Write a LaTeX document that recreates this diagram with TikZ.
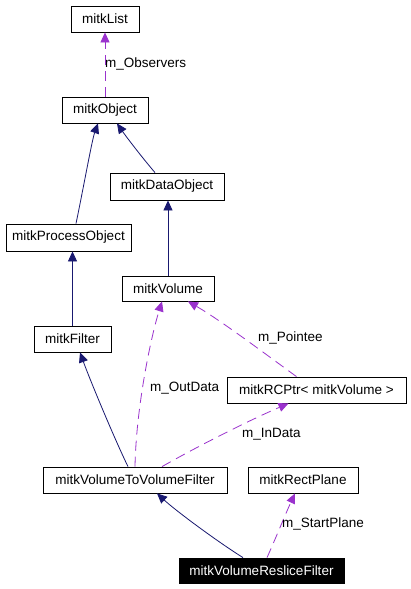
\documentclass[tikz,border=0pt]{standalone}
\usepackage{fontspec}
\setmainfont{Liberation Sans}
\usetikzlibrary{arrows.meta}
\definecolor{navy}{HTML}{191970}
\definecolor{orchid}{HTML}{9A32CD}
\begin{document}
\begin{tikzpicture}[x=1pt,y=-1pt,
  box/.style={draw=black,line width=0.8pt,fill=white,inner sep=0pt,minimum height=26pt,font=\fontsize{13.5pt}{15pt}\selectfont},
  inh/.style={draw=navy,line width=0.8pt,-{Triangle[length=10pt,width=9pt]}},
  use/.style={draw=orchid,line width=0.8pt,dash pattern=on 10pt off 6pt,-{Triangle[length=10pt,width=9pt]}},
  lbl/.style={anchor=west,inner sep=0pt,font=\fontsize{13.5pt}{15pt}\selectfont}]
\useasboundingbox (0,0) rectangle (411,589);
\fill[white] (0,0) rectangle (411,589);
\node[box,minimum width=68pt] (list) at (105,19) {mitkList};
\node[box,minimum width=86pt] (obj) at (105,110) {mitkObject};
\node[box,minimum width=114pt,minimum height=27pt] (dobj) at (167,186.5) {mitkDataObject};
\node[box,minimum width=125pt,minimum height=27pt] (pobj) at (68.5,237.5) {mitkProcessObject};
\node[box,minimum width=92pt,minimum height=25pt] (vol) at (168,288.5) {mitkVolume};
\node[box,minimum width=77pt] (filt) at (72.5,339) {mitkFilter};
\node[box,minimum width=179pt] (rcp) at (316.5,390) {mitkRCPtr< mitkVolume >};
\node[box,minimum width=184pt] (vtvf) at (135,480) {mitkVolumeToVolumeFilter};
\node[box,minimum width=110pt] (rect) at (303,480) {mitkRectPlane};
\node[box,minimum width=165pt,minimum height=25pt,fill=black,text=white] (vrf) at (261.5,570.5) {mitkVolumeResliceFilter};

% inheritance
\draw[inh] ([xshift=7.5pt]pobj.north) .. controls (84,185) and (92,140) .. ([xshift=-7pt]obj.south);
\draw[inh] ([xshift=-12pt]dobj.north) .. controls (140,155) and (125,135) .. ([xshift=12pt]obj.south);
\draw[inh] (vol.north) -- (vol.north |- dobj.south);
\draw[inh] (filt.north) -- (filt.north |- pobj.south);
\draw[inh] ([xshift=-7pt]vtvf.north) .. controls (115,440) and (90,380) .. ([xshift=7.5pt]filt.south);
\draw[inh] ([xshift=-18.5pt]vrf.north) .. controls (215,540) and (175,510) .. ([xshift=22pt]vtvf.south);

% usage
\draw[use] (obj.north) -- (list.south);
\node[lbl] (lobs) at (105,64) {m\_Observers};
\draw[use] (vtvf.north) .. controls (136,410) and (150,340) .. ([xshift=-6pt]vol.south);
\node[lbl] (lout) at (150,388) {m\_OutData};
\draw[use] ([xshift=27pt]vtvf.north) .. controls (200,445) and (250,420) .. ([xshift=-28pt]rcp.south);
\node[lbl] (lin) at (242,434) {m\_InData};
\draw[use] ([xshift=-20pt]rcp.north) .. controls (260,350) and (220,320) .. ([xshift=20pt]vol.south);
\node[lbl] (lpt) at (258,338) {m\_Pointee};
\draw[use] ([xshift=5.5pt]vrf.north) .. controls (275,540) and (285,515) .. ([xshift=-8pt]rect.south);
\node[lbl] (lsp) at (282,524) {m\_StartPlane};
\end{tikzpicture}
\end{document}
